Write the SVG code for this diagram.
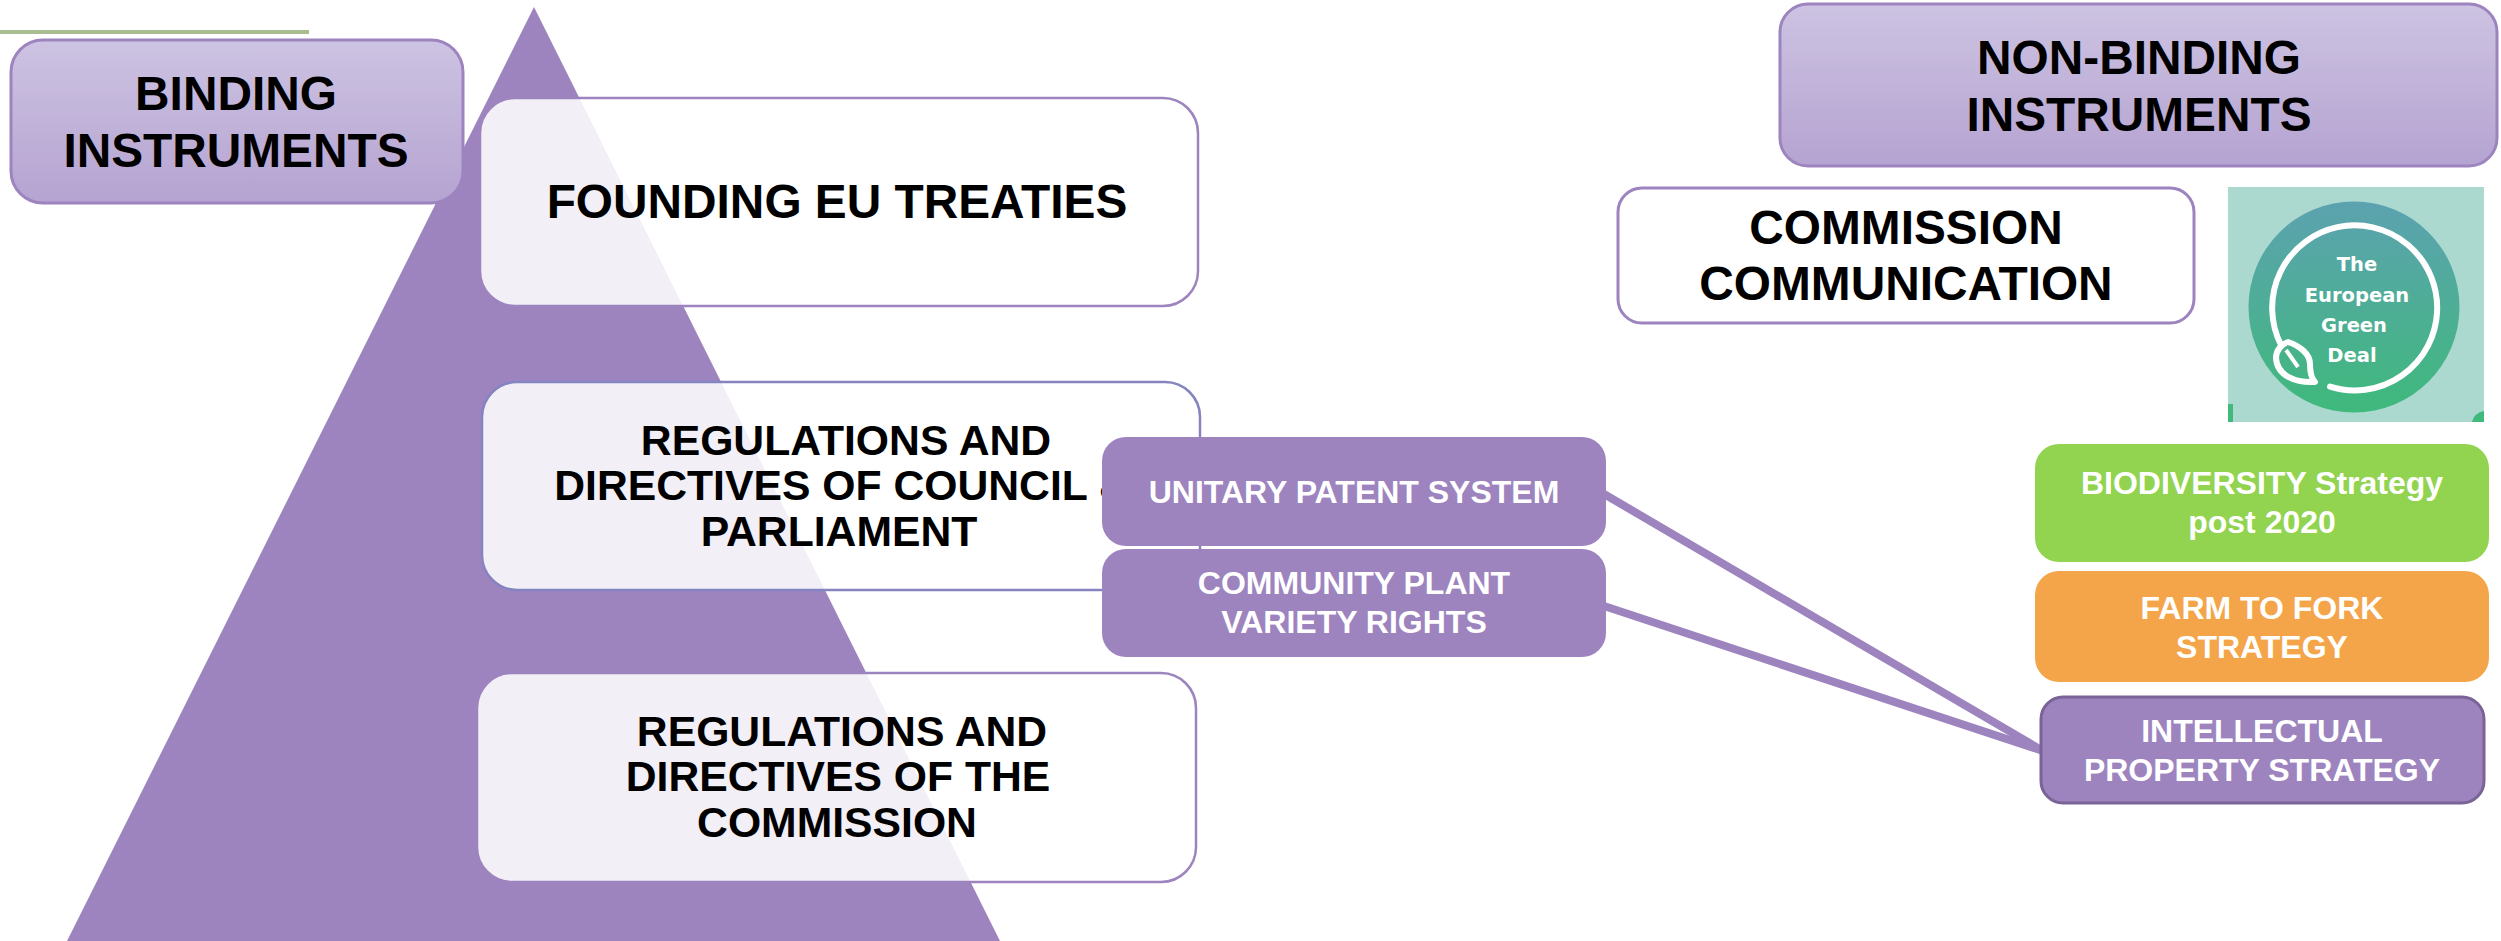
<svg xmlns="http://www.w3.org/2000/svg" width="2501" height="941" viewBox="0 0 2501 941">
<style>
text{font-family:"Liberation Sans",Arial,sans-serif;font-weight:700;text-anchor:middle}
.h{font-size:47.8px;fill:#000}
.m{font-size:42.7px;fill:#000}
.w{font-size:32px;fill:#fff}
.head{fill:url(#hg);stroke:#9d84bf;stroke-width:3}
.tier{fill:#fff;fill-opacity:.87;stroke:#9d84bf;stroke-width:2.5}
.tb{stroke:#8584c0}
.sub{fill:#9d84bf}
.logo{font-family:"DejaVu Sans",sans-serif;font-size:19.5px;fill:#fff}
</style>
<defs>
<linearGradient id="hg" x1="0" y1="0" x2="0" y2="1"><stop offset="0" stop-color="#cdc3e2"/><stop offset="1" stop-color="#b5a3d1"/></linearGradient>
<linearGradient id="lg" x1="0" y1="0" x2="0" y2="1"><stop offset="0" stop-color="#5ca2b0"/><stop offset="1" stop-color="#3fb97c"/></linearGradient>
</defs>
<rect id="background" width="2501" height="941" fill="#fff"/>
<line id="accent-rule" x1="0" y1="32" x2="309" y2="32" stroke="#aabd90" stroke-width="4"/>
<polygon id="pyramid" points="534,7 1000,941 67,941" fill="#9d84bf"/>
<g id="binding-instruments"><rect class="head" x="11" y="40" width="452" height="163" rx="32"/><text class="h" x="236" y="110">BINDING</text><text class="h" x="236" y="167">INSTRUMENTS</text></g>
<g id="founding-treaties"><rect class="tier" x="480" y="98" width="718" height="208" rx="35"/><text class="h" x="837" y="218">FOUNDING EU TREATIES</text></g>
<g id="regs-council"><rect class="tier tb" x="482" y="382" width="718" height="208" rx="35"/><text class="m" x="846" y="455">REGULATIONS AND</text><text class="m" x="842" y="500">DIRECTIVES OF COUNCIL &amp;</text><text class="m" x="839" y="546">PARLIAMENT</text></g>
<g id="regs-commission"><rect class="tier" x="477" y="673" width="719" height="209" rx="35"/><text class="m" x="842" y="746">REGULATIONS AND</text><text class="m" x="838" y="791">DIRECTIVES OF THE</text><text class="m" x="837" y="837">COMMISSION</text></g>
<g id="connectors" fill="none" stroke="#9d84bf" stroke-width="8"><line x1="1604" y1="494" x2="2043" y2="751"/><line x1="1604" y1="606" x2="2043" y2="751"/></g>
<g id="unitary-patent"><rect class="sub" x="1102" y="437" width="504" height="109" rx="24"/><text class="w" x="1354" y="503">UNITARY PATENT SYSTEM</text></g>
<g id="plant-variety"><rect class="sub" x="1102" y="549" width="504" height="108" rx="24"/><text class="w" x="1354" y="594">COMMUNITY PLANT</text><text class="w" x="1354" y="633">VARIETY RIGHTS</text></g>
<g id="non-binding-instruments"><rect class="head" x="1780" y="4" width="717" height="162" rx="28"/><text class="h" x="2139" y="74">NON-BINDING</text><text class="h" x="2139" y="131">INSTRUMENTS</text></g>
<g id="commission-communication"><rect fill="#fff" stroke="#9d84bf" stroke-width="3" x="1618" y="188" width="576" height="135" rx="24"/><text class="h" x="1906" y="244">COMMISSION</text><text class="h" x="1906" y="300">COMMUNICATION</text></g>
<g id="green-deal-badge">
<rect x="2228" y="187" width="256" height="235" fill="#abd8cf"/>
<rect x="2228" y="404" width="5" height="18" fill="#3fb97c"/>
<path d="M2484 411a15 15 0 0 0-12 11h12z" fill="#3fb97c"/>
<circle cx="2354" cy="307" r="105.5" fill="url(#lg)"/>
<path d="M2330 386.6A82.5 82.5 0 1 0 2281 345" fill="none" stroke="#fff" stroke-width="6" stroke-linecap="round"/>
<path d="M2315 382C2296 383 2277 376 2276 358C2276 350 2282 344 2288 342C2300 346 2310 354 2310 364C2310 372 2311 378 2315 382Z" fill="none" stroke="#fff" stroke-width="6" stroke-linejoin="round"/>
<line x1="2286" y1="350" x2="2298" y2="367" stroke="#fff" stroke-width="4"/>
<text class="logo" x="2357" y="271">The</text><text class="logo" x="2357" y="302">European</text><text class="logo" x="2354" y="332">Green</text><text class="logo" x="2352" y="362">Deal</text>
</g>
<g id="biodiversity"><rect x="2035" y="444" width="454" height="118" rx="24" fill="#92d34f"/><text class="w" x="2262" y="494">BIODIVERSITY Strategy</text><text class="w" x="2262" y="533">post 2020</text></g>
<g id="farm-to-fork"><rect x="2035" y="571" width="454" height="111" rx="24" fill="#f4a549"/><text class="w" x="2262" y="619">FARM TO FORK</text><text class="w" x="2262" y="658">STRATEGY</text></g>
<g id="ip-strategy"><rect x="2041" y="697" width="443" height="106" rx="22" fill="#9d84bf" stroke="#7a6396" stroke-width="3"/><text class="w" x="2262" y="742">INTELLECTUAL</text><text class="w" x="2262" y="781">PROPERTY STRATEGY</text></g>
</svg>
